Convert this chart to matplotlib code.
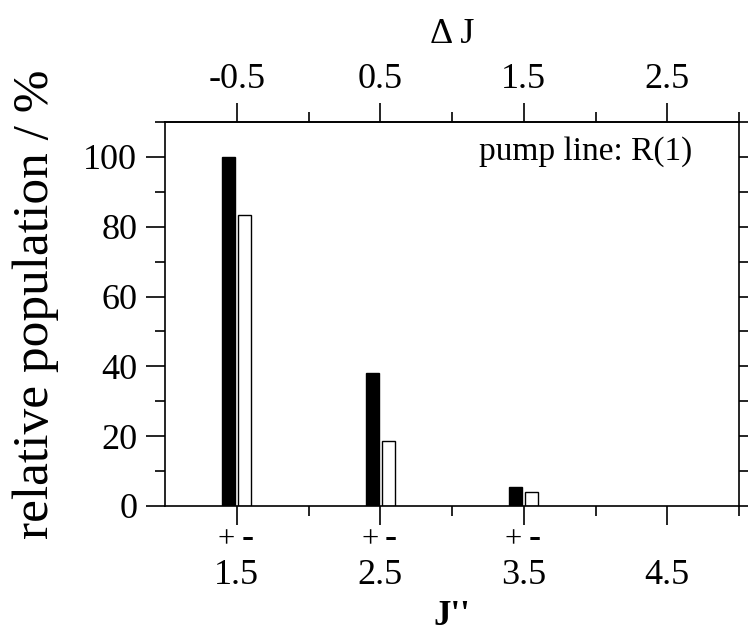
import numpy as np
from matplotlib import pyplot as plt
from matplotlib.ticker import FixedLocator, MultipleLocator

plt.rcParams['font.family'] = ['Liberation Serif', 'DejaVu Serif']

# data
J = np.array([1.5, 2.5, 3.5])
pop_plus = np.array([100.0, 38.0, 5.5])
pop_minus = np.array([83.4, 18.6, 3.9])
x_ticks = [1.5, 2.5, 3.5, 4.5]
x_ticklabels = ['1.5', '2.5', '3.5', '4.5']
dJ_ticklabels = ['-0.5', '0.5', '1.5', '2.5']
parity = ['+', '-']

fig = plt.figure(figsize=(7.48, 6.34), dpi=100)
ax = fig.add_axes([0.2206, 0.2019, 0.7674, 0.6057])

off = 0.056
w = 0.088
ax.bar(J - off, pop_plus, width=w, color='black', edgecolor='black', linewidth=1)
ax.bar(J + off, pop_minus, width=w, color='white', edgecolor='black', linewidth=1)

ax.set_xlim(1.0, 5.0)
ax.set_ylim(0, 110)

ax.xaxis.set_major_locator(FixedLocator(x_ticks))
ax.set_xticklabels(x_ticklabels)
ax.xaxis.set_minor_locator(FixedLocator([2, 3, 4, 5]))
ax.yaxis.set_major_locator(MultipleLocator(20))
ax.yaxis.set_minor_locator(MultipleLocator(10))

for s in ax.spines.values():
    s.set_linewidth(1.2)

ax.tick_params(axis='both', which='both', direction='out', width=1.2, labelsize=26)
ax.tick_params(axis='x', which='major', length=14, pad=24)
ax.tick_params(axis='x', which='minor', length=7)
ax.tick_params(axis='y', which='major', length=14, pad=6)
ax.tick_params(axis='y', which='minor', length=7)
ax.tick_params(axis='y', which='both', right=True)

# top axis: Delta J = J'' - 2
top = ax.secondary_xaxis('top', functions=(lambda x: x - 2, lambda x: x + 2))
top.xaxis.set_major_locator(FixedLocator([j - 2 for j in x_ticks]))
top.set_xticklabels(dJ_ticklabels)
top.xaxis.set_minor_locator(FixedLocator([0, 1, 2, 3]))
top.spines['top'].set_linewidth(1.2)
top.tick_params(axis='x', which='both', direction='out', width=1.2, labelsize=26)
top.tick_params(axis='x', which='major', length=14, pad=5)
top.tick_params(axis='x', which='minor', length=7)
top.set_xlabel('\u0394 J', fontsize=26, labelpad=14)

# parity labels under each J'' tick
for j in J:
    ax.text(j - 0.074, -0.0885, parity[0], transform=ax.get_xaxis_transform(),
            ha='center', va='center', fontsize=22)
    ax.text(j + 0.074, -0.085, parity[1], transform=ax.get_xaxis_transform(),
            ha='center', va='center', fontsize=26, fontweight='bold')

ax.set_xlabel("J''", fontsize=25, fontweight='bold')
ax.xaxis.set_label_coords(0.5, -0.289)
ax.xaxis.label.set_verticalalignment('center')
ax.set_ylabel('relative population / %', fontsize=37)
ax.yaxis.set_label_coords(-0.226, 0.526)
ax.yaxis.label.set_verticalalignment('center')

ax.text(0.918, 0.924, 'pump line: R(1)', transform=ax.transAxes,
        ha='right', va='center', fontsize=24)

fig.savefig('out.png', dpi=100)
